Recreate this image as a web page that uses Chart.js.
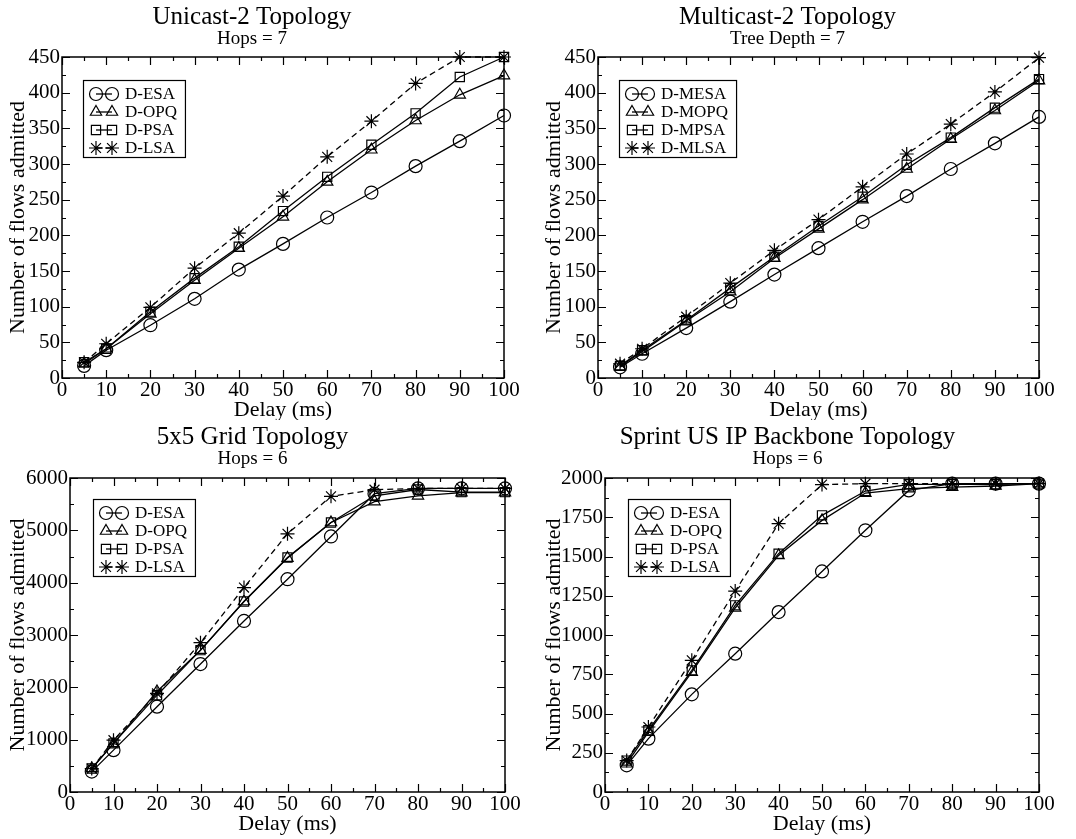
<!DOCTYPE html>
<html>
<head>
<meta charset="utf-8">
<script src="https://cdn.jsdelivr.net/npm/chart.js@4.4.1/dist/chart.umd.min.js"></script>
<style>
  body { margin: 0; background: #fff; width: 1076px; height: 839px; position: relative; overflow: hidden; }
  canvas { position: absolute; }
</style>
</head>
<body>
<canvas id="c1" width="538" height="420" style="left:0;top:0"></canvas>
<canvas id="c2" width="540" height="420" style="left:536px;top:0"></canvas>
<canvas id="c3" width="538" height="419" style="left:0;top:420px"></canvas>
<canvas id="c4" width="540" height="419" style="left:536px;top:420px"></canvas>
<script>
// x values shared by all panels
const delays = [5, 10, 20, 30, 40, 50, 60, 70, 80, 90, 100];

// Unicast-2 topology
const uniEsa = [17, 39, 74, 111, 152, 188, 225, 260, 297, 332, 368];
const uniOpq = [20, 41, 90, 137, 182, 226, 275, 320, 361, 397, 424];
const uniPsa = [22, 41, 93, 140, 184, 234, 282, 327, 371, 422, 450];
const uniLsa = [22, 48, 99, 154, 203, 255, 310, 360, 413, 450, 450];

// Multicast-2 topology
const mulEsa = [15, 34, 70, 107, 145, 182, 219, 255, 293, 329, 366];
const mulOpq = [16, 37, 80, 121, 168, 209, 250, 293, 335, 375, 417];
const mulPsa = [17, 39, 81, 126, 170, 213, 254, 299, 337, 379, 419];
const mulLsa = [20, 41, 86, 133, 179, 222, 268, 314, 356, 401, 449];

// 5x5 grid topology
const gridEsa = [390, 800, 1630, 2445, 3268, 4066, 4883, 5700, 5800, 5800, 5800];
const gridOpq = [450, 930, 1920, 2710, 3640, 4470, 5150, 5550, 5660, 5720, 5720];
const gridPsa = [450, 930, 1850, 2710, 3640, 4480, 5150, 5660, 5780, 5730, 5730];
const gridLsa = [447, 990, 1883, 2853, 3906, 4934, 5649, 5776, 5800, 5800, 5800];

// Sprint US IP backbone topology
const sprintEsa = [170, 340, 622, 881, 1146, 1405, 1667, 1921, 1964, 1964, 1964];
const sprintOpq = [180, 382, 764, 1172, 1507, 1730, 1904, 1932, 1942, 1949, 1964];
const sprintPsa = [200, 393, 775, 1189, 1518, 1762, 1917, 1960, 1960, 1960, 1964];
const sprintLsa = [200, 414, 839, 1280, 1709, 1958, 1964, 1964, 1964, 1964, 1964];

const serif = 'Liberation Serif, Times New Roman, serif';

// ticks on all four sides, pointing inward, plus the box frame
const insideTicks = {
  id: 'insideTicks',
  beforeDatasetsDraw(chart) {
    const ctx = chart.ctx;
    const a = chart.chartArea;
    const xs = chart.scales.x, ys = chart.scales.y;
    ctx.save();
    ctx.strokeStyle = '#000';
    ctx.lineWidth = 1.5;
    ctx.strokeRect(a.left, a.top, a.right - a.left, a.bottom - a.top);
    ctx.lineWidth = 1.2;
    const xt = xs.ticks.map(t => t.value);
    const yt = ys.ticks.map(t => t.value);
    function xmark(v, len) {
      const px = Math.round(xs.getPixelForValue(v)) + 0.5;
      ctx.beginPath();
      ctx.moveTo(px, a.bottom); ctx.lineTo(px, a.bottom - len);
      ctx.moveTo(px, a.top); ctx.lineTo(px, a.top + len);
      ctx.stroke();
    }
    function ymark(v, len) {
      const py = Math.round(ys.getPixelForValue(v)) + 0.5;
      ctx.beginPath();
      ctx.moveTo(a.left, py); ctx.lineTo(a.left + len, py);
      ctx.moveTo(a.right, py); ctx.lineTo(a.right - len, py);
      ctx.stroke();
    }
    xt.forEach((v, i) => {
      xmark(v, 8);
      if (i < xt.length - 1) xmark((v + xt[i + 1]) / 2, 4);
    });
    yt.forEach((v, i) => {
      ymark(v, 8);
      if (i < yt.length - 1) ymark((v + yt[i + 1]) / 2, 4);
    });
    ctx.restore();
  }
};

// xmgrace-style legend box drawn inside the plot area
const boxLegend = {
  id: 'boxLegend',
  afterDraw(chart, args, opts) {
    const ctx = chart.ctx;
    const a = chart.chartArea;
    const x0 = a.left + opts.dx, y0 = a.top + opts.dy;
    const rowH = 18;
    ctx.save();
    ctx.font = '17px ' + serif;
    let w = 0;
    chart.data.datasets.forEach(ds => { w = Math.max(w, ctx.measureText(ds.label).width); });
    const boxW = 42 + w + 8, boxH = rowH * (chart.data.datasets.length - 1) + 23;
    ctx.fillStyle = '#fff';
    ctx.fillRect(x0, y0, boxW, boxH);
    ctx.strokeStyle = '#000';
    ctx.lineWidth = 1.2;
    ctx.strokeRect(x0 + 0.5, y0 + 0.5, boxW, boxH);
    chart.data.datasets.forEach((ds, i) => {
      const cy = y0 + 14 + i * rowH;
      ctx.strokeStyle = '#000';
      ctx.beginPath();
      ctx.setLineDash(ds.borderDash || []);
      ctx.lineWidth = 1.3;
      ctx.moveTo(x0 + 13, cy); ctx.lineTo(x0 + 29, cy);
      ctx.stroke();
      ctx.setLineDash([]);
      ctx.lineWidth = 1.2;
      ctx.fillStyle = 'rgba(0,0,0,0)';
      [x0 + 13, x0 + 29].forEach(px => {
        Chart.helpers.drawPoint(ctx, {
          pointStyle: ds.pointStyle, radius: ds.pointRadius,
          borderWidth: 1.2, rotation: 0
        }, px, cy);
      });
      ctx.fillStyle = '#000';
      ctx.textBaseline = 'middle';
      ctx.fillText(ds.label, x0 + 42, cy + 1);
    });
    ctx.restore();
  }
};

function series(label, data, style, dashed) {
  return {
    label: label,
    data: data,
    borderColor: '#000',
    borderWidth: 1.3,
    borderDash: dashed ? [6, 4] : [],
    pointStyle: style,
    pointRadius: style === 'star' ? 7 : 6.5,
    pointBorderWidth: 1.2,
    pointBorderColor: '#000',
    pointBackgroundColor: 'rgba(0,0,0,0)',
    tension: 0,
    fill: false,
    clip: false
  };
}

function makePanel(id, title, subtitle, names, values, yMax, yStep, g) {
  const styles = ['circle', 'triangle', 'rect', 'star'];
  const canvas = document.getElementById(id);
  new Chart(canvas, {
    type: 'line',
    data: {
      labels: delays,
      datasets: names.map((n, i) => series(n, values[i].map((v, j) => ({ x: delays[j], y: v })), styles[i], i === 3))
    },
    options: {
      responsive: false,
      animation: false,
      devicePixelRatio: 1,
      layout: { padding: { left: 0, right: g.right, top: 0, bottom: 0 } },
      plugins: {
        legend: { display: false },
        tooltip: { enabled: false },
        title: {
          display: true, text: title, color: '#000',
          font: { family: serif, size: 25, weight: 'normal', lineHeight: 1 },
          padding: { top: 5, bottom: 0 }
        },
        subtitle: {
          display: true, text: subtitle, color: '#000',
          font: { family: serif, size: 19, weight: 'normal', lineHeight: 1 },
          padding: { top: 0, bottom: g.top - 49 }
        },
        boxLegend: { dx: g.lx, dy: g.ly }
      },
      scales: {
        x: {
          type: 'linear', min: 0, max: 100,
          afterFit: s => { s.height = canvas.height - g.bottom; },
          ticks: { stepSize: 10, color: '#000', font: { family: serif, size: 21, lineHeight: 1 }, padding: 2, maxRotation: 0 },
          grid: { display: false, drawTicks: false },
          border: { display: false },
          title: { display: true, text: 'Delay (ms)', color: '#000', font: { family: serif, size: 22, lineHeight: 1 },
                   padding: { top: 0, bottom: g.titleY - 11 } }
        },
        y: {
          type: 'linear', min: 0, max: yMax,
          afterFit: s => { s.width = g.left; },
          ticks: { stepSize: yStep, color: '#000', font: { family: serif, size: 21, lineHeight: 1 }, padding: 2,
                   callback: v => String(v) },
          grid: { display: false, drawTicks: false },
          border: { display: false },
          title: { display: true, text: 'Number of flows admitted', color: '#000', font: { family: serif, size: 22, lineHeight: 1 },
                   padding: { top: 7, bottom: 0 } }
        }
      }
    },
    plugins: [insideTicks, boxLegend]
  });
}

// g: plot-box edges inside each canvas, distance of x title centre from canvas bottom, legend offset
makePanel('c1', 'Unicast-2 Topology', 'Hops = 7',
  ['D-ESA', 'D-OPQ', 'D-PSA', 'D-LSA'], [uniEsa, uniOpq, uniPsa, uniLsa],
  450, 50, { left: 62, right: 34, top: 57, bottom: 378, titleY: 9.5, lx: 21, ly: 23 });
makePanel('c2', 'Multicast-2 Topology', 'Tree Depth = 7',
  ['D-MESA', 'D-MOPQ', 'D-MPSA', 'D-MLSA'], [mulEsa, mulOpq, mulPsa, mulLsa],
  450, 50, { left: 62, right: 37, top: 57, bottom: 378, titleY: 9.5, lx: 21, ly: 23 });
makePanel('c3', '5x5 Grid Topology', 'Hops = 6',
  ['D-ESA', 'D-OPQ', 'D-PSA', 'D-LSA'], [gridEsa, gridOpq, gridPsa, gridLsa],
  6000, 1000, { left: 70, right: 33, top: 58, bottom: 372, titleY: 15, lx: 23, ly: 21 });
makePanel('c4', 'Sprint US IP Backbone Topology', 'Hops = 6',
  ['D-ESA', 'D-OPQ', 'D-PSA', 'D-LSA'], [sprintEsa, sprintOpq, sprintPsa, sprintLsa],
  2000, 250, { left: 69, right: 37, top: 58, bottom: 372, titleY: 15, lx: 23, ly: 21 });
</script>
</body>
</html>
